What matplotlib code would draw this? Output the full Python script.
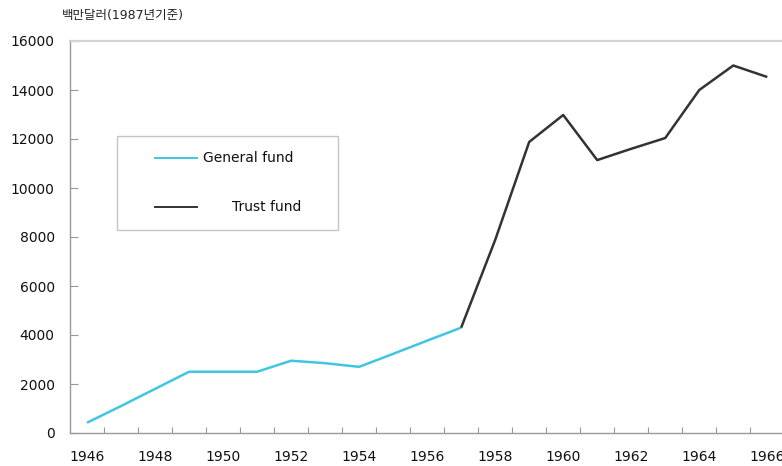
import matplotlib
matplotlib.use("Agg")
import matplotlib.pyplot as plt
from matplotlib.patches import Rectangle
from matplotlib.lines import Line2D

plt.rcParams['font.family'] = ['DejaVu Sans', 'Noto Sans CJK KR']

general_years = [1946, 1947, 1948, 1949, 1950, 1951, 1952, 1953, 1954, 1955, 1956, 1957]
general_vals = [420, 1100, 1800, 2500, 2500, 2500, 2950, 2850, 2700, 3230, 3770, 4300]
trust_years = [1957, 1958, 1959, 1960, 1961, 1962, 1963, 1964, 1965, 1966]
trust_vals = [4300, 7880, 11880, 12980, 11140, 11600, 12040, 14000, 15000, 14530]
yticks = [0, 2000, 4000, 6000, 8000, 10000, 12000, 14000, 16000]
xlabel_years = [1946, 1948, 1950, 1952, 1954, 1956, 1958, 1960, 1962, 1964, 1966]
legend_labels = ["General fund", "Trust fund"]
unit_label = "백만달러(1987년기준)"

W, H = 782, 466
fig = plt.figure(figsize=(W / 100, H / 100), dpi=100)
ax = fig.add_axes([70 / W, (H - 433) / H, 716 / W, 392 / H])

cyan = '#3fc6e2'
dark = '#333333'
ax.plot(general_years, general_vals, color=cyan, lw=1.8, solid_capstyle='butt')
ax.plot(trust_years, trust_vals, color=dark, lw=1.8, solid_capstyle='butt')

ax.set_xlim(1945.5, 1966.55)
ax.set_ylim(0, 16000)
ax.set_yticks(yticks)
ax.set_yticklabels([str(v) for v in yticks])
ax.set_xticks(xlabel_years)
ax.set_xticklabels([str(v) for v in xlabel_years])
ax.set_xticks([y + 0.5 for y in range(1946, 1966)], minor=True)

ax.tick_params(axis='y', direction='in', length=6, width=0.8, color='#999999',
               labelsize=10, pad=11, labelcolor='#111111')
ax.tick_params(axis='x', which='major', length=0, labelsize=10, pad=12,
               labelcolor='#111111')
ax.tick_params(axis='x', which='minor', direction='in', length=4, width=0.8,
               color='#999999')

for s in ['left', 'bottom']:
    ax.spines[s].set_linestyle((0, (1, 1)))
    ax.spines[s].set_color('#999999')
    ax.spines[s].set_linewidth(1.0)
ax.spines['top'].set_color('#d3d3d3')
ax.spines['top'].set_linewidth(1.6)
ax.spines['right'].set_visible(False)

fig.text(62 / W, 1 - 15 / H, unit_label, fontsize=9, va='center', ha='left',
         color='#222222')

# legend box
fig.add_artist(Rectangle((117 / W, 1 - 230 / H), (338 - 117) / W, (230 - 136) / H,
                         transform=fig.transFigure, facecolor='white',
                         edgecolor='#c4c4c4', lw=1.0))
fig.add_artist(Line2D([155 / W, 197 / W], [1 - 158 / H, 1 - 158 / H],
                      transform=fig.transFigure, color=cyan, lw=1.4))
fig.add_artist(Line2D([155 / W, 197 / W], [1 - 207 / H, 1 - 207 / H],
                      transform=fig.transFigure, color=dark, lw=1.4))
fig.text(203 / W, 1 - 158 / H, legend_labels[0], fontsize=10, va='center', ha='left',
         color='#111111')
fig.text(301 / W, 1 - 207 / H, legend_labels[1], fontsize=10, va='center', ha='right',
         color='#111111')

fig.savefig('out.png', dpi=100)
